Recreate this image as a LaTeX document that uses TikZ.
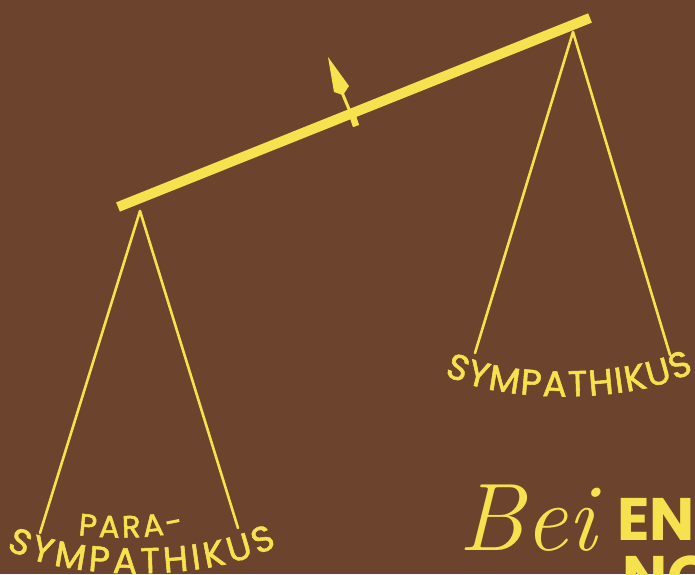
\documentclass[tikz,border=0pt]{standalone}
\usepackage{fontspec}
\newfontfamily\lab{Poppins}[FakeBold=1.6]
\newfontfamily\headfont{Poppins}
\usetikzlibrary{decorations.text}
\definecolor{bg}{RGB}{108,67,44}
\definecolor{gold}{RGB}{246,226,78}
\tikzset{
  beam/.style={gold, line width=10pt, line cap=butt},
  string/.style={gold, line width=2.6pt, line cap=round},
  curvedlabel/.style={decorate, decoration={text along path, text align={fit to path}, text color=gold, text={#1}}}
}
\begin{document}
\begin{tikzpicture}[x=1pt,y=-1pt]
\useasboundingbox (0,0) rectangle (695,574);
\clip (0,0) rectangle (695,574);
\fill[bg] (0,0) rectangle (695,574);
% beam
\coordinate (bl) at (118,207);
\coordinate (br) at (590,18);
\draw[beam] (bl) -- (br);
% pivots
\coordinate (pl) at (140,211);
\coordinate (pr) at (573,32);
\coordinate (l1) at (40,533);
\coordinate (l2) at (238,528);
\coordinate (r1) at (475,353);
\coordinate (r2) at (670,355);
\draw[string] (pl) -- (l1);
\draw[string] (pl) -- (l2);
\draw[string] (pr) -- (r1);
\draw[string] (pr) -- (r2);
% pointer
\coordinate (knob) at (356,126);
\coordinate (mid) at (352,114);
\coordinate (hb) at (341,90);
\coordinate (tip) at (328,57);
\draw[gold, line width=6.5pt] (mid) -- (knob);
\draw[gold, line width=3pt] (knob) -- (hb);
\fill[gold] (tip) -- (349,86) -- (343,95) -- (334,92) -- cycle;
% labels
\path[curvedlabel={|\lab\fontsize{36}{36}\selectfont|SYMPATHIKUS}]
  (444,375) .. controls (505,404) and (630,404) .. (694,372);
\path[curvedlabel={|\lab\fontsize{31}{31}\selectfont|PARA-}]
  (78,535) .. controls (110,539) and (150,539) .. (184,531);
\path[curvedlabel={|\lab\fontsize{36}{36}\selectfont|SYMPATHIKUS}]
  (6,549) .. controls (70,582) and (210,582) .. (277,546);
\node[anchor=base west, inner sep=0, text=gold, font=\fontsize{96}{96}\selectfont\itshape] (bei) at (458,550) {Bei};
\node[anchor=base west, inner sep=0, text=gold, font=\headfont\bfseries\fontsize{60}{60}\selectfont] (en) at (617,540) {EN};
\node[anchor=base west, inner sep=0, text=gold, font=\headfont\bfseries\fontsize{60}{60}\selectfont] (no) at (622,598) {NO};
\end{tikzpicture}
\end{document}
